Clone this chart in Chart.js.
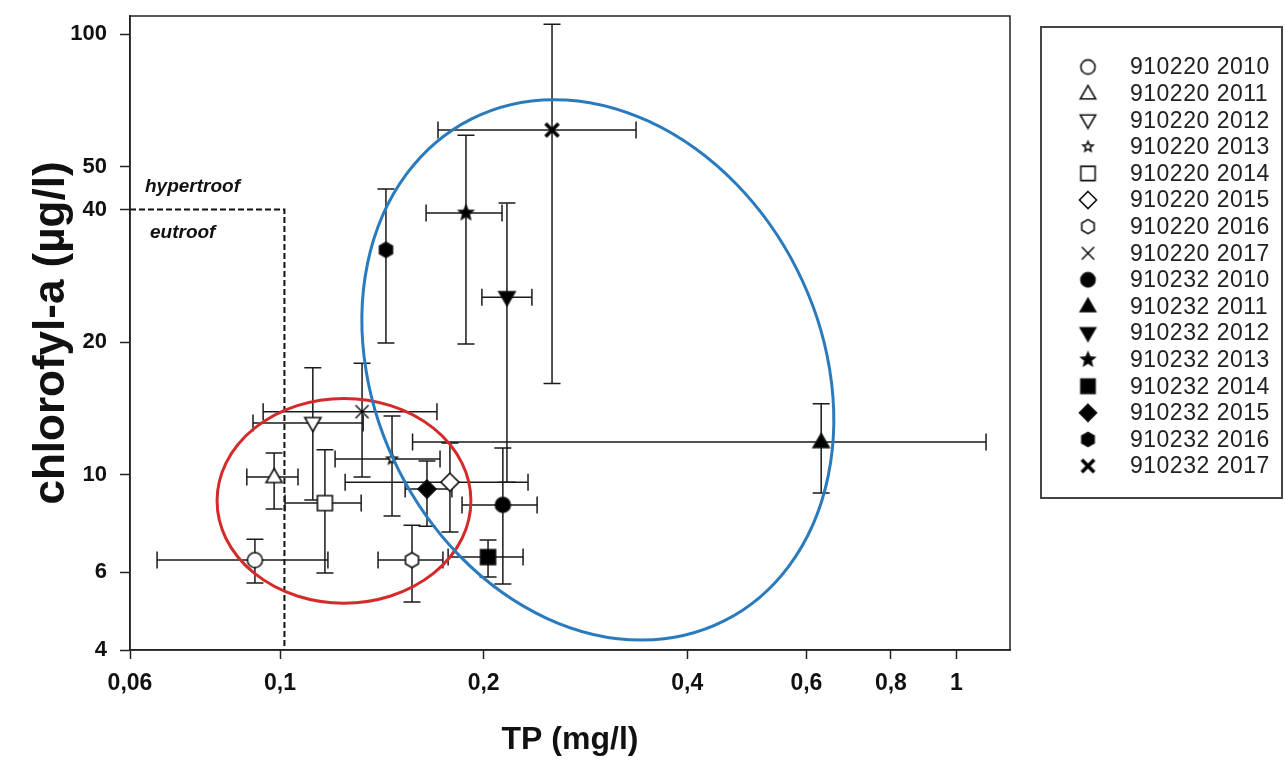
<!DOCTYPE html>
<html>
<head>
<meta charset="utf-8">
<script src="https://cdn.jsdelivr.net/npm/chart.js@4.4.1/dist/chart.umd.min.js"></script>
<style>
  html, body { margin: 0; padding: 0; background: #fff; }
  canvas { display: block; }
</style>
</head>
<body>
<canvas id="myChart" width="1285" height="761"></canvas>
<script>
// meetpunten: gemiddelde en spreiding per jaar
const labels = [
  "910220 2010", "910220 2011", "910220 2012", "910220 2013",
  "910220 2014", "910220 2015", "910220 2016", "910220 2017",
  "910232 2010", "910232 2011", "910232 2012", "910232 2013",
  "910232 2014", "910232 2015", "910232 2016", "910232 2017",
];
const shapes = [
  "circle", "triangle", "triangleDown", "star", "square", "diamond", "hexagon", "cross",
  "circle", "triangle", "triangleDown", "star", "square", "diamond", "hexagon", "cross",
];
const filled = [false, false, false, false, false, false, false, false,
  true, true, true, true, true, true, true, true];

const tp     = [0.0918, 0.098, 0.1118, 0.1464, 0.1165, 0.1783, 0.1567, 0.1322,
  0.2135, 0.631, 0.2165, 0.1883, 0.203, 0.1649, 0.1434, 0.2524];
const tpLow  = [0.0658, 0.0893, 0.0912, 0.1206, 0.1017, 0.1248, 0.1396, 0.0944,
  0.1858, 0.157, 0.1988, 0.1644, 0.1772, 0.1531, 0.1434, 0.1712];
const tpHigh = [0.1177, 0.1063, 0.1327, 0.1724, 0.1318, 0.2326, 0.1741, 0.1706,
  0.2399, 1.106, 0.2357, 0.2129, 0.2287, 0.1795, 0.1434, 0.336];

const chl     = [6.40, 9.88, 13.1, 10.86, 8.62, 9.62, 6.40, 13.9,
  8.54, 11.86, 25.3, 39.3, 6.50, 9.28, 32.4, 60.6];
const chlLow  = [5.68, 8.36, 8.76, 8.06, 5.98, 7.41, 5.14, 9.88,
  5.65, 9.09, 9.62, 19.8, 5.86, 7.64, 19.9, 16.1];
const chlHigh = [7.14, 11.2, 17.5, 13.6, 11.4, 11.8, 7.68, 17.9,
  11.5, 14.5, 41.4, 59.0, 7.11, 10.74, 44.5, 105.4];

const xTicks = [0.06, 0.1, 0.2, 0.4, 0.6, 0.8, 1];
const xTickLabels = ["0,06", "0,1", "0,2", "0,4", "0,6", "0,8", "1"];
const yTicks = [4, 6, 10, 20, 40, 50, 100];
const yTickLabels = ["4", "6", "10", "20", "40", "50", "100"];

// grens eutroof / hypertroof
const tpLimit = 0.1015;
const chlLimit = 40;

// groepen (ellipsen)
const redBox = { xMin: 0.0807, xMax: 0.1915, yMin: 5.11, yMax: 14.9 };
const blueCenter = { x: 0.295, y: 17.3 };

function marker(shape, solid, r) {
  const s = Math.ceil(r * 2 + 6);
  const c = document.createElement("canvas");
  c.width = s;
  c.height = s;
  const g = c.getContext("2d");
  g.translate(s / 2, s / 2);
  g.lineWidth = 1.6;
  g.strokeStyle = "#111";
  g.fillStyle = solid ? "#000" : "#fff";
  g.beginPath();
  if (shape === "circle") {
    g.arc(0, 0, r, 0, Math.PI * 2);
  } else if (shape === "triangle") {
    g.moveTo(0, -r);
    g.lineTo(r * 0.95, r * 0.65);
    g.lineTo(-r * 0.95, r * 0.65);
    g.closePath();
  } else if (shape === "triangleDown") {
    g.moveTo(0, r);
    g.lineTo(r * 0.95, -r * 0.65);
    g.lineTo(-r * 0.95, -r * 0.65);
    g.closePath();
  } else if (shape === "star") {
    for (let k = 0; k < 10; k++) {
      const rr = k % 2 === 0 ? r : r * 0.45;
      const a = -Math.PI / 2 + (k * Math.PI) / 5;
      g.lineTo(Math.cos(a) * rr, Math.sin(a) * rr);
    }
    g.closePath();
  } else if (shape === "square") {
    g.rect(-r, -r, r * 2, r * 2);
  } else if (shape === "diamond") {
    g.moveTo(0, -r);
    g.lineTo(r, 0);
    g.lineTo(0, r);
    g.lineTo(-r, 0);
    g.closePath();
  } else if (shape === "hexagon") {
    for (let k = 0; k < 6; k++) {
      const a = -Math.PI / 2 + (k * Math.PI) / 3;
      g.lineTo(Math.cos(a) * r, Math.sin(a) * r);
    }
    g.closePath();
  }
  if (shape === "cross") {
    g.lineWidth = solid ? 3.6 : 1.4;
    g.strokeStyle = "#000";
    g.moveTo(-r, -r);
    g.lineTo(r, r);
    g.moveTo(r, -r);
    g.lineTo(-r, r);
    g.stroke();
  } else {
    g.fill();
    g.stroke();
  }
  return c;
}

const plotSize = { circle: 7.5, triangle: 8.5, triangleDown: 8.5, star: 7.5, square: 7.5, diamond: 9, hexagon: 7.5, cross: 6.5 };
function markerSize(i, f) {
  let r = plotSize[shapes[i]];
  if (shapes[i] === "star" && !filled[i]) r = 5.5;
  return r * f;
}

const plotMarkers = labels.map((_, i) => marker(shapes[i], filled[i], markerSize(i, 1)));
const legendMarkers = labels.map((_, i) => marker(shapes[i], filled[i], markerSize(i, 0.95)));

const extras = {
  id: "extras",
  beforeDatasetsDraw(chart) {
    const { ctx, chartArea } = chart;
    const xs = chart.scales.x;
    const ys = chart.scales.y;
    ctx.save();

    // grenslijnen
    ctx.strokeStyle = "#111";
    ctx.lineWidth = 2;
    ctx.setLineDash([6, 3]);
    ctx.beginPath();
    ctx.moveTo(chartArea.left, ys.getPixelForValue(chlLimit));
    ctx.lineTo(xs.getPixelForValue(tpLimit), ys.getPixelForValue(chlLimit));
    ctx.lineTo(xs.getPixelForValue(tpLimit), chartArea.bottom);
    ctx.stroke();
    ctx.setLineDash([]);

    ctx.fillStyle = "#111";
    ctx.font = "italic bold 19px 'Liberation Sans', Arial, sans-serif";
    ctx.textBaseline = "middle";
    ctx.textAlign = "left";
    ctx.fillText("hypertroof", chartArea.left + 15, ys.getPixelForValue(chlLimit) - 23);
    ctx.fillText("eutroof", chartArea.left + 20, ys.getPixelForValue(chlLimit) + 23);

    // foutbalken
    ctx.strokeStyle = "#1a1a1a";
    ctx.lineWidth = 1.5;
    const cap = 8.5;
    for (let i = 0; i < labels.length; i++) {
      const px = xs.getPixelForValue(tp[i]);
      const py = ys.getPixelForValue(chl[i]);
      ctx.beginPath();
      if (tpHigh[i] > tpLow[i]) {
        const x1 = xs.getPixelForValue(tpLow[i]);
        const x2 = xs.getPixelForValue(tpHigh[i]);
        ctx.moveTo(x1, py); ctx.lineTo(x2, py);
        ctx.moveTo(x1, py - cap); ctx.lineTo(x1, py + cap);
        ctx.moveTo(x2, py - cap); ctx.lineTo(x2, py + cap);
      }
      const y1 = ys.getPixelForValue(chlLow[i]);
      const y2 = ys.getPixelForValue(chlHigh[i]);
      ctx.moveTo(px, y1); ctx.lineTo(px, y2);
      ctx.moveTo(px - cap, y1); ctx.lineTo(px + cap, y1);
      ctx.moveTo(px - cap, y2); ctx.lineTo(px + cap, y2);
      ctx.stroke();
    }
    ctx.restore();
  },
  afterDatasetsDraw(chart) {
    const { ctx } = chart;
    const xs = chart.scales.x;
    const ys = chart.scales.y;
    ctx.save();
    ctx.lineWidth = 3;

    const l = xs.getPixelForValue(redBox.xMin);
    const r = xs.getPixelForValue(redBox.xMax);
    const t = ys.getPixelForValue(redBox.yMax);
    const b = ys.getPixelForValue(redBox.yMin);
    ctx.strokeStyle = "#d42a2a";
    ctx.beginPath();
    ctx.ellipse((l + r) / 2, (t + b) / 2, (r - l) / 2, (b - t) / 2, 0, 0, Math.PI * 2);
    ctx.stroke();

    ctx.strokeStyle = "#2a7bbd";
    ctx.beginPath();
    ctx.ellipse(xs.getPixelForValue(blueCenter.x), ys.getPixelForValue(blueCenter.y),
      223, 281, (-26.8 * Math.PI) / 180, 0, Math.PI * 2);
    ctx.stroke();
    ctx.restore();
  },
  afterDraw(chart) {
    const { ctx, chartArea } = chart;
    ctx.save();
    ctx.strokeStyle = "#222";
    ctx.lineWidth = 1.5;
    ctx.strokeRect(chartArea.left, chartArea.top, chartArea.right - chartArea.left, chartArea.bottom - chartArea.top);

    // legenda
    ctx.strokeStyle = "#444";
    ctx.lineWidth = 2;
    ctx.strokeRect(1041, 27, 241, 471);
    ctx.fillStyle = "#222";
    ctx.font = "23px 'Liberation Sans', Arial, sans-serif";
    ctx.letterSpacing = "0.5px";
    ctx.textAlign = "left";
    ctx.textBaseline = "middle";
    for (let i = 0; i < labels.length; i++) {
      const y = 67 + 26.6 * i;
      const m = legendMarkers[i];
      ctx.drawImage(m, 1088 - m.width / 2, y - m.height / 2);
      ctx.fillText(labels[i], 1130, y + 1);
    }
    ctx.restore();
  },
};

const tickFont = { family: "'Liberation Sans', Arial, sans-serif", weight: "bold", size: 22 };

new Chart(document.getElementById("myChart").getContext("2d"), {
  type: "scatter",
  data: {
    datasets: labels.map((label, i) => ({
      label: label,
      data: [{ x: tp[i], y: chl[i] }],
      pointStyle: plotMarkers[i],
      pointRadius: 8,
    })),
  },
  options: {
    responsive: false,
    animation: false,
    layout: { padding: { left: 0, top: 16, right: 275, bottom: 0 } },
    plugins: { legend: { display: false }, tooltip: { enabled: false } },
    scales: {
      x: {
        type: "logarithmic",
        min: 0.06,
        max: 1.2,
        bounds: "data",
        afterBuildTicks: (scale) => { scale.ticks = xTicks.map((v) => ({ value: v })); },
        afterFit: (scale) => {
          scale.height = 111;
          scale.paddingLeft = 0;
          scale.paddingRight = 0;
        },
        ticks: {
          autoSkip: false,
          maxRotation: 0,
          padding: 11,
          color: "#111",
          font: { ...tickFont, size: 23 },
          callback: (v, i) => xTickLabels[i],
        },
        grid: { drawOnChartArea: false, tickLength: 9, tickColor: "#222", tickWidth: 1.5 },
        border: { color: "#222", width: 1.5 },
        title: {
          display: true, text: "TP (mg/l)", color: "#111",
          font: { family: "'Liberation Sans', Arial, sans-serif", weight: "bold", size: 32 },
          padding: { top: 0, bottom: 2 },
        },
      },
      y: {
        type: "logarithmic",
        min: 4,
        max: 110,
        bounds: "data",
        afterBuildTicks: (scale) => { scale.ticks = yTicks.map((v) => ({ value: v })); },
        afterFit: (scale) => {
          scale.width = 130;
          scale.paddingTop = 0;
          scale.paddingBottom = 0;
        },
        ticks: {
          autoSkip: false,
          padding: 13,
          color: "#111",
          font: tickFont,
          callback: (v, i) => yTickLabels[i],
        },
        grid: { drawOnChartArea: false, tickLength: 10, tickColor: "#222", tickWidth: 1.5 },
        border: { color: "#222", width: 1.5 },
        title: {
          display: true, text: "chlorofyl-a (µg/l)", color: "#111",
          font: { family: "'Liberation Sans', Arial, sans-serif", weight: "bold", size: 44 },
          padding: { top: 25, bottom: 0 },
        },
      },
    },
  },
  plugins: [extras],
});
</script>
</body>
</html>
